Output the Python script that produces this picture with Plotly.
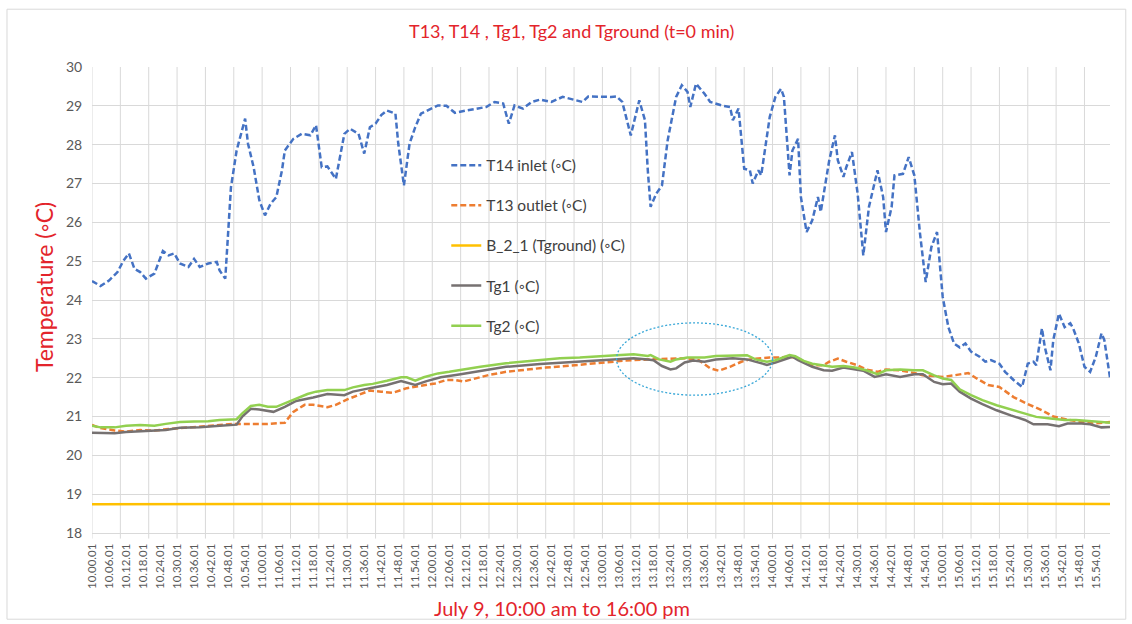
import plotly.graph_objects as go

# ---------------- data (minutes after 10:00:01) ----------------
t14_min = [0, 3, 6, 9, 11, 13, 15, 17, 19, 22, 25, 27, 29, 31, 34, 36, 38, 41, 44, 45, 47, 48, 49, 51, 54, 55, 57, 59, 61, 63, 65, 67, 68, 71, 74, 77, 79, 81, 83, 86, 88, 89, 91, 94, 96, 98, 100, 102, 104, 107, 108, 110, 112, 114, 116, 119, 122, 125, 128, 132, 136, 139, 142, 145, 147, 149, 152, 155, 158, 162, 166, 169, 173, 175, 179, 183, 185, 187, 190, 193, 195, 196, 197, 199, 201, 203, 206, 208, 210, 211, 213, 216, 218, 222, 225, 226, 228, 230, 232, 233, 235, 236, 239, 241, 243, 244, 246, 247, 249, 250, 252, 254, 256, 257, 260, 262, 263, 265, 266, 268, 270, 272, 274, 277, 279, 280, 282, 283, 286, 288, 290, 292, 294, 296, 298, 300, 302, 304, 306, 308, 310, 313, 315, 317, 320, 322, 325, 327, 328, 330, 332, 333, 335, 336, 338, 339, 341, 343, 345, 346, 348, 350, 352, 354, 356, 357, 359]
t14_val = [24.49, 24.36, 24.50, 24.72, 25.00, 25.20, 24.80, 24.72, 24.55, 24.68, 25.26, 25.15, 25.20, 24.94, 24.85, 25.06, 24.85, 24.94, 24.98, 24.76, 24.55, 25.88, 26.90, 27.85, 28.67, 28.03, 27.42, 26.57, 26.18, 26.48, 26.65, 27.34, 27.85, 28.15, 28.28, 28.24, 28.50, 27.42, 27.44, 27.12, 27.94, 28.28, 28.41, 28.28, 27.77, 28.45, 28.54, 28.76, 28.88, 28.80, 28.03, 26.95, 28.03, 28.45, 28.80, 28.90, 29.01, 29.00, 28.82, 28.88, 28.93, 28.97, 29.10, 29.06, 28.54, 29.01, 28.93, 29.10, 29.16, 29.10, 29.23, 29.18, 29.10, 29.24, 29.23, 29.23, 29.24, 29.10, 28.24, 29.14, 28.63, 27.34, 26.40, 26.74, 26.95, 28.11, 29.23, 29.53, 29.36, 28.97, 29.57, 29.31, 29.10, 29.01, 28.97, 28.63, 28.93, 27.38, 27.34, 27.00, 27.34, 27.21, 28.71, 29.23, 29.44, 29.23, 27.21, 27.85, 28.15, 26.65, 25.75, 26.05, 26.65, 26.27, 27.60, 28.24, 27.60, 27.17, 27.42, 27.81, 26.74, 25.15, 26.40, 27.34, 26.65, 25.75, 26.40, 27.21, 27.25, 27.68, 27.21, 25.71, 24.46, 25.36, 25.75, 24.08, 23.30, 22.88, 22.78, 22.88, 22.67, 22.54, 22.41, 22.45, 22.36, 22.15, 21.94, 21.81, 21.76, 22.36, 22.41, 22.32, 23.27, 22.79, 22.19, 22.97, 23.65, 23.30, 23.40, 23.27, 22.88, 22.28, 22.15, 22.54, 23.14, 22.97, 22.00]

t13_min = [0, 3, 8, 12, 17, 22, 26, 31, 36, 41, 45, 50, 55, 62, 68, 71, 75, 78, 83, 86, 90, 94, 98, 102, 106, 111, 116, 121, 125, 128, 131, 134, 140, 146, 153, 160, 167, 174, 181, 188, 196, 203, 210, 214, 218, 221, 225, 229, 232, 236, 239, 243, 246, 249, 251, 254, 258, 260, 263, 266, 270, 273, 277, 280, 285, 290, 293, 297, 300, 304, 309, 312, 316, 320, 325, 330, 335, 339, 344, 349, 353, 359]
t13_val = [20.78, 20.70, 20.64, 20.61, 20.65, 20.64, 20.67, 20.70, 20.72, 20.76, 20.78, 20.81, 20.81, 20.81, 20.84, 21.12, 21.30, 21.30, 21.24, 21.30, 21.44, 21.55, 21.67, 21.64, 21.61, 21.73, 21.79, 21.85, 21.94, 21.94, 21.90, 21.96, 22.07, 22.15, 22.21, 22.26, 22.30, 22.35, 22.39, 22.44, 22.47, 22.49, 22.50, 22.45, 22.24, 22.18, 22.28, 22.41, 22.47, 22.50, 22.52, 22.52, 22.54, 22.50, 22.41, 22.32, 22.32, 22.41, 22.49, 22.41, 22.32, 22.21, 22.15, 22.21, 22.19, 22.12, 22.06, 22.04, 22.02, 22.06, 22.12, 21.98, 21.81, 21.76, 21.50, 21.32, 21.16, 21.00, 20.92, 20.86, 20.82, 20.86]

tground_min = [0, 120, 240, 359]
tground_val = [18.74, 18.75, 18.76, 18.75]

tg1_min = [0, 8, 12, 19, 26, 31, 38, 45, 51, 53, 56, 59, 64, 68, 72, 78, 83, 89, 92, 98, 104, 109, 114, 118, 123, 130, 146, 158, 170, 181, 191, 196, 198, 201, 204, 206, 209, 212, 216, 220, 226, 231, 234, 238, 241, 246, 247, 249, 251, 254, 258, 261, 265, 269, 272, 276, 280, 285, 290, 293, 297, 300, 303, 306, 310, 314, 319, 324, 329, 332, 337, 341, 344, 349, 352, 356, 359]
tg1_val = [20.58, 20.57, 20.60, 20.63, 20.65, 20.71, 20.72, 20.76, 20.79, 21.00, 21.20, 21.18, 21.12, 21.25, 21.40, 21.49, 21.58, 21.55, 21.64, 21.73, 21.81, 21.91, 21.81, 21.91, 22.01, 22.09, 22.28, 22.35, 22.41, 22.45, 22.50, 22.47, 22.45, 22.30, 22.21, 22.24, 22.39, 22.44, 22.41, 22.47, 22.50, 22.47, 22.41, 22.33, 22.39, 22.50, 22.54, 22.45, 22.38, 22.28, 22.19, 22.18, 22.26, 22.21, 22.18, 22.02, 22.09, 22.02, 22.09, 22.09, 21.89, 21.83, 21.85, 21.64, 21.46, 21.32, 21.16, 21.03, 20.91, 20.80, 20.80, 20.75, 20.82, 20.82, 20.80, 20.72, 20.73]

tg2_min = [0, 3, 8, 12, 17, 22, 26, 31, 36, 41, 45, 51, 53, 56, 59, 62, 65, 68, 71, 76, 79, 83, 89, 92, 96, 99, 104, 109, 111, 114, 117, 122, 126, 130, 137, 146, 152, 158, 165, 172, 179, 185, 191, 196, 197, 200, 204, 206, 210, 216, 220, 226, 231, 234, 238, 241, 246, 248, 251, 254, 258, 261, 265, 269, 273, 277, 280, 285, 290, 293, 297, 300, 303, 306, 310, 314, 319, 324, 329, 333, 338, 343, 347, 352, 356, 359]
tg2_val = [20.76, 20.72, 20.72, 20.76, 20.78, 20.76, 20.81, 20.86, 20.87, 20.88, 20.91, 20.93, 21.08, 21.27, 21.30, 21.25, 21.25, 21.34, 21.45, 21.58, 21.64, 21.68, 21.68, 21.75, 21.81, 21.84, 21.92, 22.01, 22.01, 21.92, 22.01, 22.11, 22.15, 22.20, 22.28, 22.37, 22.41, 22.45, 22.50, 22.52, 22.56, 22.58, 22.60, 22.56, 22.58, 22.47, 22.41, 22.47, 22.52, 22.52, 22.56, 22.58, 22.58, 22.47, 22.41, 22.45, 22.58, 22.55, 22.43, 22.36, 22.32, 22.28, 22.30, 22.26, 22.19, 22.09, 22.19, 22.21, 22.19, 22.19, 22.06, 21.98, 21.94, 21.70, 21.55, 21.42, 21.29, 21.18, 21.08, 20.99, 20.95, 20.91, 20.91, 20.89, 20.86, 20.84]

tick_minutes = list(range(0, 360, 6))
tick_labels = ["10.00.01", "10.06.01", "10.12.01", "10.18.01", "10.24.01", "10.30.01", "10.36.01", "10.42.01", "10.48.01", "10.54.01",
               "11.00.01", "11.06.01", "11.12.01", "11.18.01", "11.24.01", "11.30.01", "11.36.01", "11.42.01", "11.48.01", "11.54.01",
               "12.00.01", "12.06.01", "12.12.01", "12.18.01", "12.24.01", "12.30.01", "12.36.01", "12.42.01", "12.48.01", "12.54.01",
               "13.00.01", "13.06.01", "13.12.01", "13.18.01", "13.24.01", "13.30.01", "13.36.01", "13.42.01", "13.48.01", "13.54.01",
               "14.00.01", "14.06.01", "14.12.01", "14.18.01", "14.24.01", "14.30.01", "14.36.01", "14.42.01", "14.48.01", "14.54.01",
               "15.00.01", "15.06.01", "15.12.01", "15.18.01", "15.24.01", "15.30.01", "15.36.01", "15.42.01", "15.48.01", "15.54.01"]

RED = "#E3242B"
GRID = "#D9D9D9"
FONT = "Lato, 'Open Sans', sans-serif"

fig = go.Figure()
fig.add_trace(go.Scatter(x=t14_min, y=t14_val, mode="lines", name="T14 inlet (◦C)", legendgroup="a",
                         line=dict(color="#4472C4", width=2.5, dash="6px,3px")))
fig.add_trace(go.Scatter(x=t13_min, y=t13_val, mode="lines", name="T13 outlet (◦C)", legendgroup="b",
                         line=dict(color="#ED7D31", width=2.5, dash="6px,3px")))
fig.add_trace(go.Scatter(x=tground_min, y=tground_val, mode="lines", name="B_2_1 (Tground) (◦C)", legendgroup="c",
                         line=dict(color="#FFC000", width=2.5)))
fig.add_trace(go.Scatter(x=tg1_min, y=tg1_val, mode="lines", name="Tg1 (◦C)", legendgroup="d",
                         line=dict(color="#767171", width=2.5)))
fig.add_trace(go.Scatter(x=tg2_min, y=tg2_val, mode="lines", name="Tg2 (◦C)", legendgroup="e",
                         line=dict(color="#92D050", width=2.5)))

shapes = []
# outer chart border
shapes.append(dict(type="rect", xref="paper", yref="paper",
                   x0=-0.0835, x1=1.0155, y0=-0.185, y1=1.124,
                   line=dict(color="#D9D9D9", width=1), layer="below"))
# vertical gridlines + tick marks every 10 minutes
for m in range(0, 360, 10):
    shapes.append(dict(type="line", xref="x", yref="paper", x0=m, x1=m, y0=0, y1=1,
                       line=dict(color=GRID, width=1), layer="below"))
    shapes.append(dict(type="line", xref="x", yref="paper", x0=m, x1=m, y0=-0.012, y1=0,
                       line=dict(color=GRID, width=1), layer="below"))
# highlighted region ellipse
shapes.append(dict(type="circle", xref="x", yref="y", x0=185, x1=240, y0=21.55, y1=23.41,
                   line=dict(color="#3AA8D8", width=1.3, dash="2px,2px"), layer="above"))

annotations = [
    dict(text="July 9, 10:00 am to 16:00 pm", xref="paper", yref="paper", x=0.4617, y=-0.161,
         xanchor="center", yanchor="middle", showarrow=False, font=dict(size=20, color=RED, family=FONT)),
    dict(text="Temperature (◦C)", xref="paper", yref="paper", x=-0.047, y=0.528, textangle=-90,
         xanchor="center", yanchor="middle", showarrow=False, font=dict(size=23, color=RED, family=FONT)),
]

fig.update_layout(
    width=1132, height=624,
    margin=dict(l=92, r=22, t=67, b=91),
    paper_bgcolor="white", plot_bgcolor="white",
    font=dict(family=FONT, color="#595959"),
    title=dict(text="T13, T14 , Tg1, Tg2 and Tground (t=0 min)", x=0.505, xanchor="center",
               y=0.95, yanchor="middle", font=dict(size=18, color=RED, family=FONT)),
    showlegend=True,
    legend=dict(x=0.348, y=0.825, xanchor="left", yanchor="top", bgcolor="rgba(0,0,0,0)",
                font=dict(size=15.5, color="#404040", family=FONT), tracegroupgap=17,
                itemwidth=30),
    shapes=shapes,
    annotations=annotations,
    xaxis=dict(range=[0, 359], tickmode="array", tickvals=tick_minutes, ticktext=tick_labels,
               tickangle=-90, tickfont=dict(size=11.5, color="#595959"), showgrid=False,
               zeroline=False, showline=True, linecolor=GRID, ticks="outside", ticklen=5,
               tickcolor="rgba(0,0,0,0)"),
    yaxis=dict(range=[18, 30], dtick=1, tick0=18, showgrid=True, gridcolor=GRID, gridwidth=1,
               zeroline=False, tickfont=dict(size=14, color="#595959"), ticks="outside", ticklen=6,
               tickcolor="rgba(0,0,0,0)"),
)

fig.write_html("out.html", config={"displayModeBar": False})
